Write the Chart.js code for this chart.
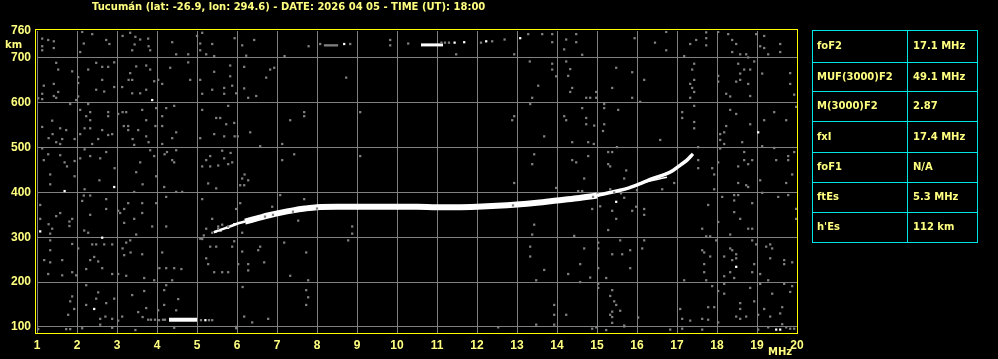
<!DOCTYPE html>
<html><head><meta charset="utf-8">
<style>html,body{margin:0;padding:0;background:#000;overflow:hidden}</style>
<script src="https://cdn.jsdelivr.net/npm/chart.js@4"></script>
</head><body>
<canvas id="c" width="998" height="359"></canvas>
<script>
const title = 'Tucumán (lat: -26.9, lon: 294.6) - DATE: 2026 04 05 - TIME (UT): 18:00';
const xTicks = [1,2,3,4,5,6,7,8,9,10,11,12,13,14,15,16,17,18,19,20];
const yTicks = [100,200,300,400,500,600,700,760];
const tableLabels = ['foF2','MUF(3000)F2','M(3000)F2','fxI','foF1','ftEs',"h'Es"];
const tableValues = ['17.1 MHz','49.1 MHz','2.87','17.4 MHz','N/A','5.3 MHz','112 km'];

// ordinary F trace (freq MHz, virtual height km)
const oTraceStart = [[5.42,311],[5.6,317],[5.8,323],[6.0,330],[6.2,335]];
const oTraceMid = [[6.2,335],[6.5,342],[6.8,349],[7.1,355],[7.4,360],[7.7,364],[8.0,367],[8.5,368],[9.0,368],[9.5,368],[10.0,368],[10.5,368],[11.0,367],[11.5,367],[12.0,368],[12.5,370],[13.0,373],[13.5,377],[14.0,382],[14.5,387],[15.0,393]];
const oTraceTop = [[15.0,393],[15.5,403],[15.8,410],[16.1,420],[16.4,431],[16.7,440],[16.9,449],[17.1,462],[17.25,472],[17.4,486]];
const xTrace = [[16.2,423],[16.5,429],[16.75,434]];
const esTrace = [[4.3,116],[4.5,116],[4.75,116],[5.0,116]];
const topEcho = [[10.6,729],[10.9,729],[11.15,729]];
const whiteDots = [[3.88,606],[8.68,731],[11.44,734],[11.68,735],[12.23,737],[13.08,744],[1.69,403],[2.93,412],[1.08,313],[2.63,299],[2.43,140],[19.03,534],[18.48,234],[15.48,379],[19.48,94],[19.58,94],[5.21,115],[5.46,312],[5.59,315],[5.78,321],[5.93,329]];
const fringe = [[3.78,116],[3.85,116],[3.95,116],[4.05,115],[4.15,116],[4.2,116],[5.1,115],[5.3,115],[5.38,115],[5.17,304],[5.38,310],[5.53,319],[5.63,328],[5.78,324],[8.2,728],[8.25,728],[8.3,728],[8.35,728],[8.4,728],[8.45,728],[8.5,728],[11.11,734],[11.2,734],[11.3,734],[12.1,734],[12.38,737],[6.7,346],[6.9,350],[7.4,357],[8.0,364],[12.9,371],[14.9,390],[15.6,398],[16.0,405]];
const noiseLow = [[1.13,743],[1.28,740],[1.42,737],[1.13,726],[1.13,717],[1.42,722],[2.13,758],[2.38,753],[2.17,732],[2.08,713],[2.73,740],[2.81,731],[3.14,749],[3.33,756],[3.46,747],[3.58,741],[3.78,743],[3.79,726],[3.83,717],[3.38,717],[3.44,730],[4.38,735],[4.48,708],[4.78,708],[5.0,749],[5.13,756],[5.08,732],[5.38,731],[5.08,717],[5.23,708],[5.43,704],[5.94,744],[6.13,728],[6.23,705],[6.43,740],[7.19,704],[7.79,726],[8.08,731],[8.83,731],[9.83,740],[9.83,728],[10.28,732],
[1.48,689],[1.53,674],[1.88,670],[2.28,674],[2.48,689],[2.63,680],[2.78,680],[2.93,690],[2.03,657],[2.03,644],[2.63,651],[2.48,629],[2.68,625],[2.93,635],[1.17,638],[1.42,642],[1.13,620],[1.53,624],[1.42,615],[1.48,611],[1.13,608],[1.03,610],[2.03,614],[1.98,606],[1.83,597],[2.28,597],[3.13,635],[3.29,651],[3.38,651],[3.33,666],[3.48,681],[3.73,683],[3.83,674],[3.93,648],[4.03,651],[4.13,642],[3.38,621],[3.58,621],[3.73,629],[4.33,678],[4.78,690],[4.83,651],[5.08,651],[5.13,620],[5.38,629],[5.43,669],[5.68,633],[5.68,620],[5.83,683],[5.83,659],[5.88,638],[5.98,621],[6.18,680],[6.18,632],[6.28,611],[6.48,615],[6.73,656],[6.83,674],[6.93,678],[8.73,656],
[2.08,584],[2.23,570],[2.33,579],[2.33,561],[2.78,579],[2.78,570],[3.03,575],[3.14,579],[3.23,579],[3.63,584],[3.73,561],[3.98,588],[4.13,570],[4.23,588],[4.43,593],[1.38,560],[1.13,546],[1.58,543],[1.73,539],[1.94,519],[1.63,519],[1.29,521],[1.39,530],[1.48,512],[1.58,508],[2.08,530],[2.19,543],[2.33,543],[2.63,539],[2.53,519],[2.78,528],[2.88,530],[2.38,508],[3.17,548],[3.28,548],[3.28,539],[3.53,539],[3.39,519],[3.43,506],[3.73,525],[3.79,512],[3.96,548],[4.13,548],[4.38,521],[4.48,534],[4.13,508],[5.13,584],[5.48,566],[5.58,566],[5.73,552],[5.93,555],[5.78,593],[5.08,521],[5.43,530],[5.68,525],[5.94,525],[6.02,525],[6.33,534],[6.58,503],[7.13,508],[7.33,561],[7.68,579],[7.68,570],[9.08,579],
[1.13,498],[1.28,485],[1.17,472],[1.58,483],[1.75,458],[1.69,467],[1.94,470],[1.94,436],[1.33,440],[2.08,476],[2.19,496],[2.33,481],[2.58,476],[2.73,490],[2.94,454],[2.56,427],[3.58,467],[3.48,445],[3.83,494],[3.93,481],[3.98,436],[4.19,485],[4.25,490],[4.48,494],[4.38,472],[4.43,467],[5.13,458],[5.23,472],[5.33,481],[5.33,458],[5.53,460],[5.63,493],[5.68,476],[5.84,488],[5.78,463],[5.88,467],[6.19,440],[6.13,431],[6.28,427],[7.13,472],[7.43,485],[9.08,481],
[1.33,418],[2.19,407],[3.64,418],[4.18,412],[4.48,401],[4.63,401],[5.28,420],[5.48,409],[6.08,416],[6.18,416],
[1.08,372],[1.48,347],[1.58,354],[1.29,329],[1.38,319],[1.08,341],[1.33,308],[1.81,335],[1.81,325],[1.88,341],[2.17,393],[2.33,393],[2.13,381],[2.73,385],[2.73,363],[2.33,350],[2.18,315],[2.28,310],[3.03,359],[3.18,363],[3.28,376],[3.08,354],[3.18,332],[3.43,341],[3.63,354],[3.48,306],[3.63,376],[3.43,401],[3.98,376],[3.88,324],[4.23,324],[4.23,390],[5.13,385],[5.23,319],[5.38,341],[5.53,324],[5.08,297],[5.98,363],[6.08,376],[6.13,310],[6.88,368],[7.08,394],[7.68,385],[7.53,337],[8.88,324],[8.88,308],[8.78,293],
[1.33,293],[1.88,285],[2.03,275],[2.38,284],[2.48,284],[2.68,284],[2.88,284],[3.23,288],[3.33,293],[3.14,275],[3.18,260],[3.34,266],[3.63,262],[4.13,266],[1.33,271],[1.18,249],[1.33,244],[1.63,249],[1.28,218],[1.63,215],[1.88,222],[1.98,215],[2.23,229],[2.43,256],[2.33,249],[2.53,246],[2.63,231],[2.88,218],[3.03,218],[3.23,214],[3.68,209],[3.93,204],[4.06,231],[4.23,231],[4.61,229],[4.38,204],[4.43,231],[5.13,296],[5.23,253],[5.28,240],[5.33,279],[5.48,279],[5.43,222],[5.63,222],[5.78,222],[5.88,279],[5.93,291],[6.03,240],[6.28,240],[6.28,226],[6.13,268],[6.53,271],[6.68,244],[6.58,279],[7.18,288],[7.33,214],[7.73,266],[7.78,204],
[2.23,193],[2.53,177],[1.88,168],[1.83,157],[2.48,163],[2.93,163],[2.73,153],[2.23,149],[1.93,140],[1.78,127],[2.71,123],[2.58,118],[2.58,105],[2.88,118],[3.03,114],[3.13,123],[3.38,171],[3.68,180],[3.53,133],[3.64,122],[3.73,142],[4.03,137],[4.18,149],[4.53,162],[4.48,137],[4.23,193],[4.18,182],[5.98,100],[6.14,189],[6.18,123],[6.38,110],[6.78,118],[7.73,182],[7.78,166],[7.73,149],[2.88,98],[1.03,95],[1.73,95],[1.83,95],[2.13,97],[3.46,93],[4.43,98],[5.98,97]];
const noiseHigh = [[11.48,708],[12.69,741],[12.93,708],[13.28,753],[13.63,753],[13.88,753],[13.88,735],[14.23,741],[14.18,719],[14.48,753],[14.48,735],[14.63,707],[15.94,744],[16.45,734],[16.73,758],[16.73,717],[17.33,731],[17.48,740],[17.73,757],[17.73,744],[17.73,728],[18.03,758],[18.28,753],[18.38,740],[18.48,731],[18.38,713],[18.58,708],[18.73,708],[18.98,753],[19.18,749],[19.08,726],[19.18,722],[19.28,708],[19.58,731],[19.58,713],
[13.32,692],[13.88,687],[13.88,674],[13.98,659],[14.23,692],[14.33,675],[14.28,660],[14.38,633],[14.33,624],[13.53,638],[13.38,611],[14.98,624],[14.98,611],[14.73,611],[14.83,611],[15.38,633],[15.48,678],[15.88,668],[16.18,651],[15.88,611],[16.08,602],[17.43,687],[17.38,674],[17.43,651],[17.33,642],[17.38,633],[17.43,624],[17.33,611],[17.18,704],[18.03,660],[18.03,647],[18.23,620],[18.33,614],[18.48,647],[18.58,651],[18.58,665],[18.53,687],[18.68,674],[18.83,674],[18.78,701],[18.93,692],[18.78,642],[18.83,615],[19.13,665],[19.83,666],[19.83,642],[19.93,618],
[13.33,597],[12.93,570],[12.88,561],[13.68,525],[14.18,570],[14.23,561],[14.63,588],[14.73,566],[14.73,552],[14.93,549],[15.18,597],[15.18,588],[15.18,552],[15.15,537],[15.53,584],[14.38,512],[14.78,512],[14.92,508],[16.58,517],[17.13,579],[17.13,566],[17.43,593],[17.43,557],[17.43,543],[18.23,548],[18.33,584],[18.48,575],[18.08,530],[18.18,534],[18.08,517],[18.18,508],[18.83,552],[19.18,561],[19.43,579],[19.73,561],[19.98,591],[18.63,512],
[13.43,485],[13.38,463],[14.38,472],[14.48,467],[14.78,481],[14.68,431],[15.28,490],[15.38,490],[15.28,463],[15.33,458],[15.5,501],[15.73,449],[15.68,431],[17.53,501],[17.53,472],[17.53,454],[17.88,454],[17.93,440],[18.03,467],[18.08,498],[18.53,458],[18.68,490],[18.68,472],[18.78,463],[18.88,472],[19.13,503],[19.43,499],[19.48,472],[19.78,481],[19.78,472],[19.93,490],[19.88,440],[19.08,427],
[12.93,421],[13.98,410],[14.53,403],[14.63,403],[15.33,407],[15.43,400],[16.63,407],[16.93,421],[17.93,407],[18.53,421],[18.73,416],[18.78,412],[19.73,421],
[15.68,388],[14.88,363],[15.08,369],[15.38,359],[15.88,359],[15.98,368],[16.18,363],[16.18,350],[15.28,316],[14.43,303],[13.43,328],[13.38,306],[15.48,341],[17.78,372],[17.63,319],[17.73,302],[17.83,302],[17.98,293],[18.03,334],[18.13,390],[18.43,394],[18.53,394],[18.43,382],[18.43,356],[18.58,341],[18.33,306],[18.78,319],[18.88,319],[18.88,376],[19.13,399],[19.53,390],[19.78,394],[19.98,363],[19.98,341],
[18.88,293],[18.98,284],[19.23,279],[19.33,284],[19.38,275],[19.33,253],[19.68,249],[19.68,240],[19.88,244],[18.93,240],[18.88,222],[19.08,218],[19.28,204],[18.33,275],[18.38,271],[18.48,262],[18.48,253],[18.38,249],[18.18,257],[18.33,222],[18.18,213],[18.43,209],[17.63,271],[17.68,266],[17.83,257],[17.68,240],[17.68,222],[17.73,204],[17.18,204],[16.13,275],[16.18,293],[15.83,271],[15.83,231],[15.58,293],[15.63,262],[15.38,262],[15.03,288],[15.03,275],[15.03,231],[15.23,209],[14.68,275],[14.58,240],[14.83,210],[14.28,218],[13.33,279],[13.33,257],[13.68,227],[13.48,204],
[15.03,196],[15.03,187],[15.38,182],[15.33,169],[15.43,157],[15.48,149],[15.38,134],[15.33,127],[15.38,122],[15.58,136],[15.38,109],[14.58,200],[13.93,149],[13.93,127],[14.23,127],[13.93,105],[13.48,105],[16.03,121],[15.68,103],[17.08,140],[17.13,118],[17.33,114],[17.63,118],[17.78,144],[17.78,116],[17.93,144],[18.03,110],[18.18,196],[18.03,180],[18.18,174],[17.88,191],[18.58,153],[18.58,140],[18.48,123],[18.58,118],[18.73,123],[18.83,187],[18.93,157],[19.03,127],[19.18,140],[19.08,196],[19.38,174],[19.63,144],[19.58,130],[19.68,196],[19.88,191],[19.83,178],[19.33,123],[19.63,106],[19.28,99],[19.73,99],[19.83,96],[19.93,96],[12.53,99],[14.88,96],[14.98,99],[15.23,93],[15.68,101],[16.83,94],[17.13,96],[17.63,94],[19.03,94]];

const pts = a => a.map(p => ({x: p[0], y: p[1]}));
const WHITE = '#ffffff', GRAY = '#808080', YEL = '#ffff80';
const FONT = 'Liberation Sans';
const TFONT = 'DejaVu Sans';

function lineDs(data, w) {
  return {data: pts(data), showLine: true, borderColor: WHITE, borderWidth: w, pointRadius: 0,
    cubicInterpolationMode: 'monotone', borderCapStyle: 'butt', fill: false};
}
function dotDs(data, color) {
  return {data: pts(data), pointStyle: 'rect', pointRadius: 1.6, pointBackgroundColor: color,
    pointBorderWidth: 0, borderWidth: 0, showLine: false};
}

const deco = {
  id: 'deco',
  beforeDraw(chart) {
    const c = chart.ctx;
    c.save(); c.fillStyle = '#000'; c.fillRect(0, 0, chart.width, chart.height); c.restore();
  },
  afterDraw(chart) {
    const c = chart.ctx;
    c.save();
    c.strokeStyle = '#ffff00'; c.lineWidth = 1;
    c.strokeRect(35.5, 29.5, 762, 304);
    c.fillStyle = YEL;
    c.font = 'bold 10px "' + TFONT + '"';
    c.textBaseline = 'middle'; c.textAlign = 'left';
    c.fillText(title, 92, 7);
    c.fillText('km', 5, 45);
    c.fillText('MHz', 768, 352);
    // parameter table
    const tx0 = 812.5, tx1 = 977.5, tmid = 907.5;
    const rows = [30.5, 62.5, 91.5, 121.5, 152.5, 182.5, 212.5, 242.5];
    c.strokeStyle = '#00e5e5';
    c.strokeRect(tx0, rows[0], tx1 - tx0, rows[rows.length - 1] - rows[0]);
    c.beginPath();
    c.moveTo(tmid, rows[0]); c.lineTo(tmid, rows[rows.length - 1]);
    for (let i = 1; i < rows.length - 1; i++) { c.moveTo(tx0, rows[i]); c.lineTo(tx1, rows[i]); }
    c.stroke();
    for (let i = 0; i < tableLabels.length; i++) {
      const yc = (rows[i] + rows[i + 1]) / 2;
      c.fillText(tableLabels[i], 817, yc);
      c.fillText(tableValues[i], 913, yc);
    }
    c.restore();
  }
};

new Chart(document.getElementById('c'), {
  type: 'scatter',
  data: {
    datasets: [
      dotDs(noiseLow, GRAY),
      dotDs(noiseHigh, GRAY),
      dotDs(fringe, GRAY),
      lineDs(oTraceStart, 2.5),
      lineDs(oTraceMid, 6),
      lineDs(oTraceTop, 3.5),
      lineDs(xTrace, 1.5),
      lineDs(esTrace, 4),
      lineDs(topEcho, 3),
      dotDs(whiteDots, WHITE)
    ]
  },
  options: {
    responsive: false, animation: false, devicePixelRatio: 1,
    layout: {padding: {top: 31, right: 201, left: 0, bottom: 0}},
    plugins: {legend: {display: false}, tooltip: {enabled: false}},
    scales: {
      x: {
        type: 'linear', min: 1, max: 20,
        afterBuildTicks: s => { s.ticks = xTicks.map(v => ({value: v})); },
        afterFit: s => { s.height = 26; },
        border: {display: false},
        grid: {color: GRAY, lineWidth: 1, drawTicks: false},
        ticks: {color: YEL, font: {family: FONT, size: 12, weight: 'bold'}, padding: 5, maxRotation: 0, autoSkip: false}
      },
      y: {
        type: 'linear', min: 86.4, max: 760,
        afterBuildTicks: s => { s.ticks = yTicks.map(v => ({value: v})); },
        afterFit: s => { s.width = 37; },
        border: {display: false},
        grid: {color: ctx => (ctx.tick && ctx.tick.value === 760 ? 'rgba(0,0,0,0)' : GRAY), lineWidth: 1, drawTicks: false},
        ticks: {color: YEL, font: {family: FONT, size: 12, weight: 'bold'}, padding: 6, autoSkip: false}
      }
    }
  },
  plugins: [deco]
});
</script>
</body></html>
